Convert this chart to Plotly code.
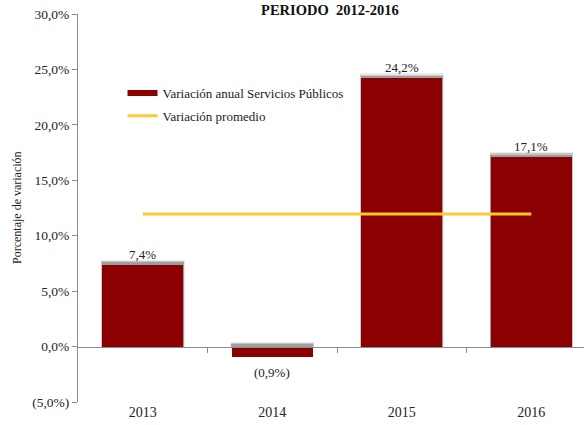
import plotly.graph_objects as go

# Annual variation of public services, 2013-2016 (%)
years = ["2013", "2014", "2015", "2016"]
variation = [7.4, -0.9, 24.2, 17.1]
average = round(sum(variation) / len(variation), 2)

y_ticks = [-5, 0, 5, 10, 15, 20, 25, 30]

BAR_RED = "#8B0000"
GOLD = "#FFC935"
AXIS_GREY = "#8C8C8C"
SERIF = "Liberation Serif"


def fmt_pct(v):
    s = f"{abs(v):.1f}".replace(".", ",") + "%"
    return f"({s})" if v < 0 else s


fig = go.Figure()

# soft shadow along the top edge of each bar
for w, pad, op in [(0.645, 0.45, 0.12), (0.638, 0.32, 0.22), (0.632, 0.2, 0.35)]:
    fig.add_trace(go.Bar(
        x=years,
        y=[abs(v) + pad if v >= 0 else pad for v in variation],
        base=[0 for v in variation],
        width=w,
        marker=dict(color=f"rgba(80,80,80,{op})", line=dict(width=0)),
        showlegend=False, hoverinfo="skip",
    ))

fig.add_trace(go.Bar(
    x=years, y=variation, width=0.625,
    marker=dict(color=BAR_RED, line=dict(width=0)),
    name="Variación anual Servicios Públicos",
    showlegend=False,
))

# average line
fig.add_trace(go.Scatter(
    x=years, y=[average] * len(years), mode="lines",
    line=dict(color=GOLD, width=3),
    name="Variación promedio", showlegend=False,
))

# legend entries
fig.add_trace(go.Scatter(
    x=[None], y=[None], mode="lines",
    line=dict(color=BAR_RED, width=6),
    name="Variación anual Servicios Públicos", legendgroup="a",
))
fig.add_trace(go.Scatter(
    x=[None], y=[None], mode="lines",
    line=dict(color=GOLD, width=3),
    name="Variación promedio", legendgroup="b",
))

# zero line with ticks between categories
fig.add_trace(go.Scatter(x=[None], y=[None], xaxis="x2", showlegend=False))

fig.update_layout(
    width=584, height=425,
    margin=dict(l=78, r=0, t=14, b=22.5),
    paper_bgcolor="white", plot_bgcolor="white",
    barmode="overlay", bargap=0,
    font=dict(family=SERIF, color="#222"),
    title=dict(
        text="<b>PERIODO  2012-2016</b>",
        x=0.565, xanchor="center", y=1 - 10 / 425, yanchor="middle",
        yref="container",
        font=dict(family=SERIF, size=14.5, color="#111"),
    ),
    xaxis=dict(
        type="category", range=[-0.5, 3.407],
        showline=False, ticks="", showgrid=False, zeroline=False,
        tickfont=dict(family=SERIF, size=14, color="#222"),
    ),
    xaxis2=dict(
        overlaying="x", anchor="free", position=5 / 35,
        range=[-0.5, 3.407], showline=True, linecolor=AXIS_GREY, linewidth=1,
        ticks="outside", ticklen=5, tickcolor=AXIS_GREY,
        tickvals=[0.5, 1.5, 2.5], showticklabels=False, showgrid=False,
        zeroline=False, side="bottom",
    ),
    yaxis=dict(
        range=[-5, 30], tickvals=y_ticks,
        ticktext=[fmt_pct(float(t)) for t in y_ticks],
        showline=True, linecolor=AXIS_GREY, linewidth=1,
        ticks="outside", ticklen=5, tickcolor=AXIS_GREY,
        showgrid=False, zeroline=False,
        tickfont=dict(family=SERIF, size=13.5, color="#222"),
    ),
    legend=dict(
        x=0.088, y=0.835, xanchor="left", yanchor="top",
        bgcolor="rgba(0,0,0,0)", traceorder="grouped", tracegroupgap=3,
        font=dict(family=SERIF, size=13, color="#222"),
        itemwidth=30,
    ),
)

# value labels (category axis: position by category index)
for i, v in enumerate(variation):
    fig.add_annotation(
        x=i, y=v, xref="x", yref="y", text=fmt_pct(v), showarrow=False,
        yanchor="bottom" if v >= 0 else "top",
        yshift=1 if v >= 0 else -6,
        font=dict(family=SERIF, size=13, color="#222"),
    )

fig.add_annotation(
    text="Porcentaje de variación", textangle=-90, showarrow=False,
    xref="paper", yref="paper", x=(17 - 78) / 506, y=0.5,
    xanchor="center", yanchor="middle",
    font=dict(family=SERIF, size=12, color="#222"),
)

fig.write_html("out.html")
